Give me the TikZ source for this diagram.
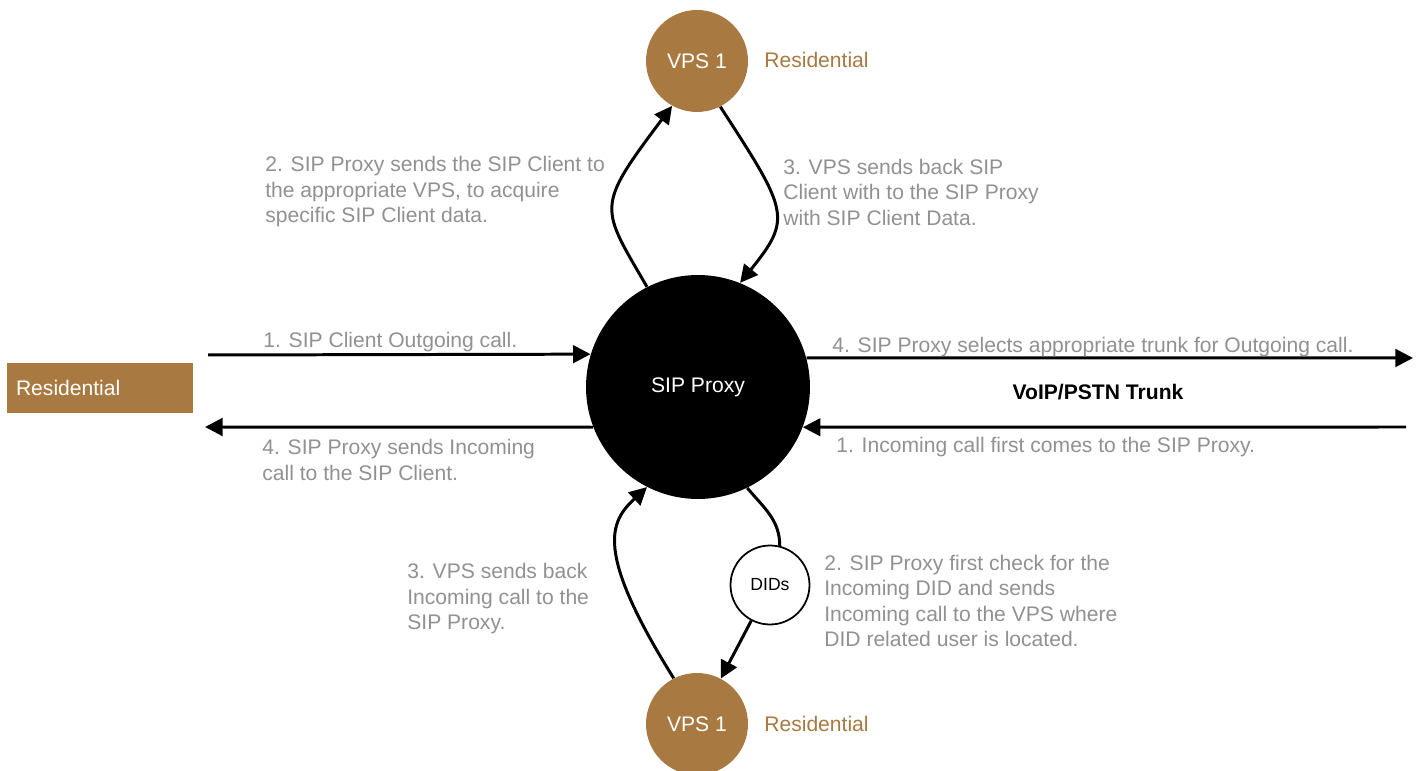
\documentclass[tikz,border=0pt]{standalone}
\usepackage{fontspec}
\setmainfont{Liberation Sans}
\usetikzlibrary{arrows.meta}
\definecolor{resbrown}{RGB}{168,121,65}
\definecolor{notegray}{RGB}{145,145,145}

\begin{document}
\begin{tikzpicture}[x=0.02cm,y=0.02cm,>={Triangle[length=10pt,width=10pt]},
    font=\fontsize{12}{14.5}\selectfont,
    flow/.style={line width=1.7pt},
    vps/.style={circle,fill=resbrown,text=white,minimum size=2.04cm,inner sep=0pt},
    note/.style={text=notegray,align=left,anchor=west,inner sep=0pt},
    tag/.style={text=resbrown,anchor=west,inner sep=0pt}]

    \useasboundingbox (0,0) rectangle (1421,771);

    \node[circle,fill=black,text=white,minimum size=4.48cm,inner sep=0pt] (proxy) at (698,384) {SIP Proxy};
    \node[vps] (vpstop) at (697,710) {VPS 1};
    \node[vps] (vpsbot) at (697,47) {VPS 1};
    \node[circle,draw,line width=1pt,fill=white,minimum size=1.58cm,inner sep=0pt,font=\fontsize{10}{12}\selectfont] (dids) at (770,186) {DIDs};
    \node[fill=resbrown,text=white,text width=3.36cm,inner xsep=0.18cm,minimum height=1cm,align=left] (home) at (100,383) {Residential};

    \node[tag] (toptag) at (764,711) {Residential};
    \node[tag] (bottag) at (764,47) {Residential};

    % client side
    \coordinate (outL) at (208,416);
    \coordinate (inL) at (205,344);
    \draw[flow,->] (outL) -- (proxy.163);
    \draw[flow,->] (proxy.201) -- (inL);
    \node[note] (clientout) at (263,429) {1. SIP Client Outgoing call.};
    \node[note] (clientin) at (262,311) {4. SIP Proxy sends Incoming\\call to the SIP Client.};

    % trunk side
    \coordinate (outR) at (1413,413);
    \coordinate (inR) at (1406,344);
    \draw[flow,->] (proxy.15) -- (outR);
    \draw[flow,->] (inR) -- (proxy.339);
    \node[note] (trunkout) at (832,424) {4. SIP Proxy selects appropriate trunk for Outgoing call.};
    \node[font=\fontsize{12}{14.5}\selectfont\bfseries] (trunk) at (1098,379) {VoIP/PSTN Trunk};
    \node[note] (trunkin) at (836,324) {1. Incoming call first comes to the SIP Proxy.};

    % outgoing lookup
    \draw[flow,->] (proxy.117) to[out=120,in=233,out looseness=1.3,in looseness=1.8] (vpstop.241);
    \draw[flow,->] (vpstop.297) to[out=303,in=51,out looseness=1.8,in looseness=1.2] (proxy.68);
    \node[note] (askvps) at (265,579) {2. SIP Proxy sends the SIP Client to\\the appropriate VPS, to acquire\\specific SIP Client data.};
    \node[note] (vpsback) at (783,579) {3. VPS sends back SIP\\Client with to the SIP Proxy\\with SIP Client Data.};

    % incoming lookup
    \draw[flow] (proxy.296) to[out=-50,in=90] (dids.76);
    \draw[flow,->] (dids) -- (vpsbot);
    \draw[flow,->] (vpsbot.117) to[out=122,in=223,out looseness=2,in looseness=0.67] (proxy.243);
    \node[note] (incback) at (407,172) {3. VPS sends back\\Incoming call to the\\SIP Proxy.};
    \node[note] (didcheck) at (824,170) {2. SIP Proxy first check for the\\Incoming DID and sends\\Incoming call to the VPS where\\DID related user is located.};

\end{tikzpicture}
\end{document}
